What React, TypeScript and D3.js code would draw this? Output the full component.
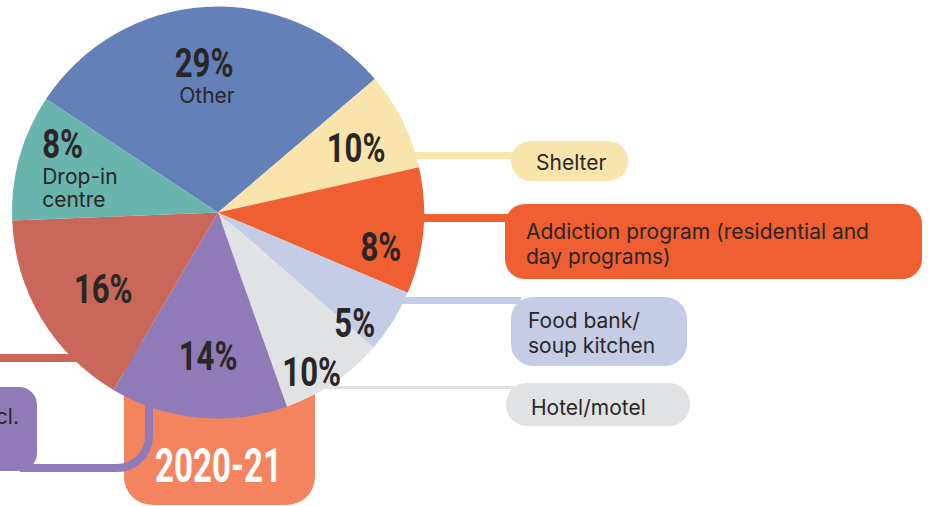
import React from 'react';
import * as d3 from 'd3';

// ---- data ----
const categories = [
  'Other',
  'Shelter',
  'Addiction program',
  'Food bank/soup kitchen',
  'Hotel/motel',
  'Family/friends (incl.',
  'Street',
  'Drop-in centre',
];
// share of the circle each slice takes in the picture (percent)
const shares = [29.5, 7.7, 9.9, 5.0, 8.2, 13.9, 15.9, 9.9];
// printed percentage labels
const pctLabels = ['29%', '10%', '8%', '5%', '10%', '14%', '16%', '8%'];
const innerNotes: string[][] = [['Other'], [], [], [], [], [], [], ['Drop-in', 'centre']];
const calloutLines: string[][] = [
  [],
  ['Shelter'],
  ['Addiction program (residential and', 'day programs)'],
  ['Food bank/', 'soup kitchen'],
  ['Hotel/motel'],
  ['incl.'],
  [],
  [],
];
const yearLabel = '2020-21';

// ---- styles / layout ----
const sliceColors = ['#6381b8', '#f9e4ab', '#f05f31', '#c5cde6', '#e1e2e4', '#8e7bb8', '#c8675a', '#69b5ae'];
const W = 931;
const H = 506;
const CX = 218;
const CY = 212.5;
const R = 206;
const START_DEG = -56.6;
// label anchor (baseline point) as [angle deg clockwise from top, radius]
const labelPolar: [number, number][] = [
  [-5.9, 136],
  [70.0, 147],
  [106.6, 170],
  [132.3, 185],
  [151.6, 197],
  [183.6, 158],
  [231.8, 146],
  [287.2, 184],
];
const labelAnchor = ['middle', 'middle', 'middle', 'middle', 'middle', 'middle', 'middle', 'start'];

type Callout = { x: number; y: number; w: number; h: number; rx: number; lineY: number; lineW: number; tx: number; ty: number; anchor: string };
const callouts: (Callout | null)[] = [
  null,
  { x: 511, y: 141, w: 117, h: 40, rx: 20, lineY: 155.5, lineW: 7, tx: 536, ty: 170, anchor: 'start' },
  { x: 505, y: 204, w: 417, h: 75, rx: 20, lineY: 218, lineW: 8, tx: 526, ty: 239, anchor: 'start' },
  { x: 511, y: 297, w: 176, h: 69, rx: 22, lineY: 300.5, lineW: 7, tx: 528, ty: 328, anchor: 'start' },
  { x: 506, y: 383, w: 184, h: 43, rx: 21, lineY: 387.5, lineW: 3, tx: 531, ty: 415, anchor: 'start' },
  { x: -60, y: 387, w: 97, h: 84, rx: 18, lineY: -1, lineW: 0, tx: 19, ty: 424, anchor: 'end' },
  null,
  null,
];

const PCT_FONT = 'Roboto, "DejaVu Sans", sans-serif';
const BODY_FONT = 'Inter, "Noto Sans", sans-serif';
const BODY_SIZE = 21;
const TEXT = '#2a2626';

export default function App() {
  const pie = d3
    .pie<number>()
    .sort(null)
    .value((d) => d)
    .startAngle((START_DEG * Math.PI) / 180)
    .endAngle((START_DEG * Math.PI) / 180 + 2 * Math.PI);
  const arcs = pie(shares);
  const arc = d3.arc<d3.PieArcDatum<number>>().innerRadius(0).outerRadius(R);

  const polar = (deg: number, r: number) => {
    const a = (deg * Math.PI) / 180;
    return [CX + r * Math.sin(a), CY - r * Math.cos(a)];
  };

  const purpleIdx = 5;
  const redIdx = 6;

  return (
    <svg width={W} height={H} style={{ position: 'absolute', left: 0, top: 0, background: '#fff' }}>
      {/* year box */}
      <rect x={124} y={340} width={191} height={165} rx={28} fill="#f4845f" />

      {/* connector lines */}
      {callouts.map((c, i) =>
        c && c.lineW > 0 ? (
          <line key={'l' + i} x1={CX} x2={c.x + 10} y1={c.lineY} y2={c.lineY} stroke={sliceColors[i]} strokeWidth={c.lineW} />
        ) : null
      )}
      <line x1={-10} x2={CX} y1={358} y2={358} stroke={sliceColors[redIdx]} strokeWidth={8} />
      <path d="M149 395 V436 A32 32 0 0 1 117 468 H20" fill="none" stroke={sliceColors[purpleIdx]} strokeWidth={8} />

      {/* callout pills */}
      {callouts.map((c, i) =>
        c ? (
          <g key={'c' + i}>
            <rect x={c.x} y={c.y} width={c.w} height={c.h} rx={c.rx} fill={sliceColors[i]} />
            {calloutLines[i].map((t, j) => (
              <text key={j} x={c.tx} y={c.ty + j * 25} textAnchor={c.anchor as any} fontFamily={BODY_FONT} fontSize={BODY_SIZE} fill={TEXT}>
                {t}
              </text>
            ))}
          </g>
        ) : null
      )}

      {/* pie */}
      <g transform={`translate(${CX},${CY})`}>
        {arcs.map((a, i) => (
          <path key={categories[i]} d={arc(a) || ''} fill={sliceColors[i]} />
        ))}
      </g>

      {/* percent labels */}
      {arcs.map((a, i) => {
        const [x, y] = polar(labelPolar[i][0], labelPolar[i][1]);
        return (
          <g key={'p' + i}>
            <text
              transform={`translate(${x},${y}) scale(0.76,1)`}
              textAnchor={labelAnchor[i] as any}
              fontFamily={PCT_FONT}
              fontWeight={700}
              fontSize={41}
              fill={TEXT}
            >
              {pctLabels[i]}
            </text>
            {innerNotes[i].map((t, j) => (
              <text
                key={j}
                x={labelAnchor[i] === 'start' ? x : x + 3}
                y={y + 26 + j * 23}
                textAnchor={labelAnchor[i] as any}
                fontFamily={BODY_FONT}
                fontSize={BODY_SIZE}
                fill={TEXT}
              >
                {t}
              </text>
            ))}
          </g>
        );
      })}

      {/* year text */}
      <text transform={`translate(${CX + 0.5},482) scale(0.69,1)`} textAnchor="middle" fontFamily={PCT_FONT} fontWeight={700} fontSize={48} fill="#fff">
        {yearLabel}
      </text>
    </svg>
  );
}
